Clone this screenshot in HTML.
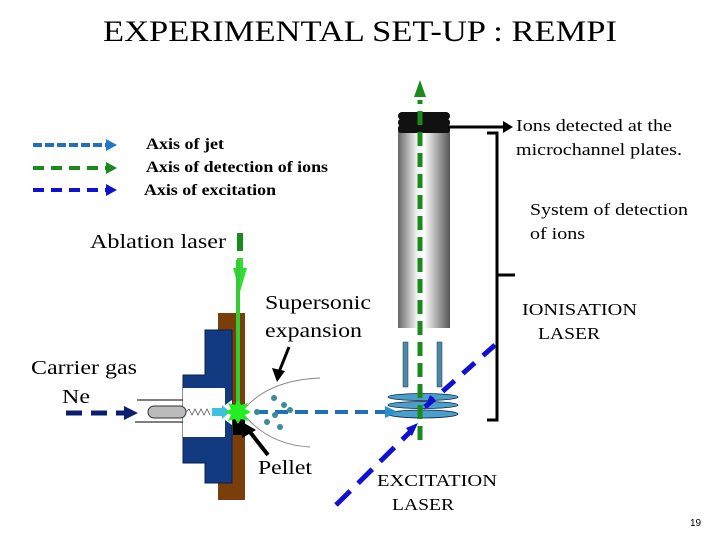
<!DOCTYPE html>
<html><head><style>
body{margin:0;width:720px;height:540px;background:#fff;overflow:hidden}
svg{display:block}
text{font-family:"Liberation Serif",serif;fill:#000}
</style></head><body>
<svg width="720" height="540" viewBox="0 0 720 540">
<defs>
<linearGradient id="cyl" x1="0" x2="1">
<stop offset="0" stop-color="#666"/><stop offset="0.35" stop-color="#eee"/><stop offset="0.5" stop-color="#fff"/><stop offset="0.75" stop-color="#aaa"/><stop offset="1" stop-color="#555"/>
</linearGradient>
</defs>
<text x="103" y="41" font-size="30" textLength="514" lengthAdjust="spacingAndGlyphs">EXPERIMENTAL SET-UP : REMPI</text>
<!-- legend -->
<line x1="33" y1="145" x2="108" y2="145" stroke="#1f70b8" stroke-width="4" stroke-dasharray="9,3"/>
<polygon points="106,139 117,145 106,151" fill="#1f78c8"/>
<line x1="33" y1="168" x2="108" y2="168" stroke="#1a8a1a" stroke-width="4" stroke-dasharray="11,7"/>
<polygon points="106,162 117,168 106,174" fill="#1a8a1a"/>
<line x1="33" y1="190" x2="108" y2="190" stroke="#1010d0" stroke-width="4" stroke-dasharray="11,7"/>
<polygon points="106,184 117,190 106,196" fill="#1010d0"/>
<text x="146" y="149" font-size="16" font-weight="bold" textLength="78" lengthAdjust="spacingAndGlyphs">Axis of jet</text>
<text x="146" y="172" font-size="16" font-weight="bold" textLength="182" lengthAdjust="spacingAndGlyphs">Axis of detection of ions</text>
<text x="144" y="195" font-size="16" font-weight="bold" textLength="132" lengthAdjust="spacingAndGlyphs">Axis of excitation</text>
<!-- detector -->
<rect x="398" y="128" width="52" height="200" fill="url(#cyl)"/>
<rect x="398" y="112" width="52" height="8" rx="4" fill="#111"/>
<rect x="398" y="119" width="52" height="7" rx="3" fill="#111"/>
<rect x="398" y="125" width="52" height="8" rx="3" fill="#111"/>
<rect x="403" y="342" width="5" height="45" fill="#4a8aa8" stroke="#234" stroke-width="0.5"/>
<rect x="437" y="342" width="5" height="45" fill="#4a8aa8" stroke="#234" stroke-width="0.5"/>
<ellipse cx="423" cy="397" rx="35" ry="3.5" fill="#4aa0c8" stroke="#124" stroke-width="0.8"/>
<ellipse cx="423" cy="405" rx="35" ry="3.5" fill="#4aa0c8" stroke="#124" stroke-width="0.8"/>
<ellipse cx="423" cy="414" rx="35" ry="4" fill="#4aa0c8" stroke="#124" stroke-width="0.8"/>
<line x1="420" y1="440" x2="420" y2="100" stroke="#1a8a1a" stroke-width="5" stroke-dasharray="14,7"/>
<polygon points="414,97 420,80 426,97" fill="#1a8a1a"/>
<line x1="448" y1="127" x2="505" y2="127" stroke="#000" stroke-width="3"/>
<polygon points="503,121 513,127 503,133" fill="#000"/>
<text x="516" y="131" font-size="17" textLength="156" lengthAdjust="spacingAndGlyphs">Ions detected at the</text>
<text x="516" y="155" font-size="17" textLength="166" lengthAdjust="spacingAndGlyphs">microchannel plates.</text>
<text x="530" y="215" font-size="17" textLength="158" lengthAdjust="spacingAndGlyphs">System of detection</text>
<text x="530" y="239" font-size="17" textLength="55" lengthAdjust="spacingAndGlyphs">of ions</text>
<path d="M487,133 L497,133 L497,420 L487,420 M497,275 L515,275" fill="none" stroke="#000" stroke-width="3"/>
<text x="522" y="315" font-size="17" textLength="115" lengthAdjust="spacingAndGlyphs">IONISATION</text>
<text x="538" y="339" font-size="17" textLength="62" lengthAdjust="spacingAndGlyphs">LASER</text>
<line x1="495" y1="345" x2="425" y2="407" stroke="#1010d0" stroke-width="5" stroke-dasharray="16,11"/>
<polygon points="434,398 424,410 430,395" fill="#1010d0"/>
<line x1="336" y1="505" x2="410" y2="432" stroke="#1010d0" stroke-width="5" stroke-dasharray="20,11"/>
<polygon points="406,428 418,423 412,436" fill="#1010d0"/>
<text x="377" y="486" font-size="17" textLength="120" lengthAdjust="spacingAndGlyphs">EXCITATION</text>
<text x="392" y="510" font-size="17" textLength="62" lengthAdjust="spacingAndGlyphs">LASER</text>
<text x="90" y="248" font-size="20" textLength="136" lengthAdjust="spacingAndGlyphs">Ablation laser</text>
<rect x="237" y="233" width="6" height="18" fill="#1a8a1a"/>
<polygon points="233,268 247,268 240,292" fill="#33dd33"/>
<rect x="237" y="258" width="6" height="12" fill="#33dd33"/>
<rect x="218" y="313" width="27" height="187" fill="#7a3e0a"/>
<polygon points="205,330 232,330 232,483 205,483 205,463 183,463 183,375 205,375" fill="#123a80" stroke="#0a1f50" stroke-width="1"/>
<rect x="183" y="388" width="42" height="49" fill="#fff"/>
<polygon points="225,405 232,400 232,425 225,420" fill="#fff"/>
<line x1="137" y1="400" x2="183" y2="400" stroke="#333" stroke-width="1.2"/>
<line x1="135" y1="422" x2="183" y2="422" stroke="#333" stroke-width="1.2"/>
<rect x="236" y="260" width="4" height="152" fill="#33cc33"/>
<line x1="255" y1="412" x2="392" y2="412" stroke="#1f70b8" stroke-width="4" stroke-dasharray="13,7"/>
<polygon points="385,406 398,412 385,418" fill="#2a90d0"/>
<path d="M245,408 Q270,380 320,378" fill="none" stroke="#888" stroke-width="1"/>
<path d="M245,416 Q270,445 310,447" fill="none" stroke="#888" stroke-width="1"/>
<g fill="#3a8aa0"><circle cx="274" cy="398" r="3"/><circle cx="284" cy="405" r="3"/><circle cx="275" cy="415" r="3"/><circle cx="290" cy="410" r="3"/><circle cx="267" cy="422" r="3"/><circle cx="280" cy="427" r="3"/><circle cx="257" cy="412" r="3"/></g>
<rect x="148" y="406" width="38" height="12" rx="6" fill="#bbb" stroke="#333"/>
<path d="M186,412 l3,-3 3,6 3,-6 3,6 3,-6 3,6 3,-6 3,6" fill="none" stroke="#555" stroke-width="0.8"/>
<polygon points="212,408 222,408 222,405 230,412 222,419 222,416 212,416" fill="#40c0e0"/>
<rect x="233" y="417" width="12" height="18" fill="#000"/>
<polygon points="238,400 241,405 248,403 245,409 251,412 245,415 248,421 241,419 238,424 235,419 228,421 231,415 225,412 231,409 228,403 235,405" fill="#22ee22"/>
<text x="31" y="374" font-size="20" textLength="106" lengthAdjust="spacingAndGlyphs">Carrier gas</text>
<text x="62" y="403" font-size="20" textLength="28" lengthAdjust="spacingAndGlyphs">Ne</text>
<line x1="66" y1="413" x2="125" y2="413" stroke="#0a1f70" stroke-width="5" stroke-dasharray="16,9"/>
<polygon points="124,406 138,413 124,420" fill="#0a1f70"/>
<text x="265" y="309" font-size="20" textLength="106" lengthAdjust="spacingAndGlyphs">Supersonic</text>
<text x="265" y="337" font-size="20" textLength="97" lengthAdjust="spacingAndGlyphs">expansion</text>
<line x1="289" y1="347" x2="279" y2="372" stroke="#000" stroke-width="3"/>
<polygon points="272,368 277,382 285,371" fill="#000"/>
<text x="258" y="474" font-size="20" textLength="54" lengthAdjust="spacingAndGlyphs">Pellet</text>
<line x1="268" y1="455" x2="250" y2="432" stroke="#000" stroke-width="4"/>
<polygon points="244,423 242,438 256,430" fill="#000"/>
<text x="690" y="526" font-size="10" style="font-family:'Liberation Sans',sans-serif">19</text>
</svg>
</body></html>
